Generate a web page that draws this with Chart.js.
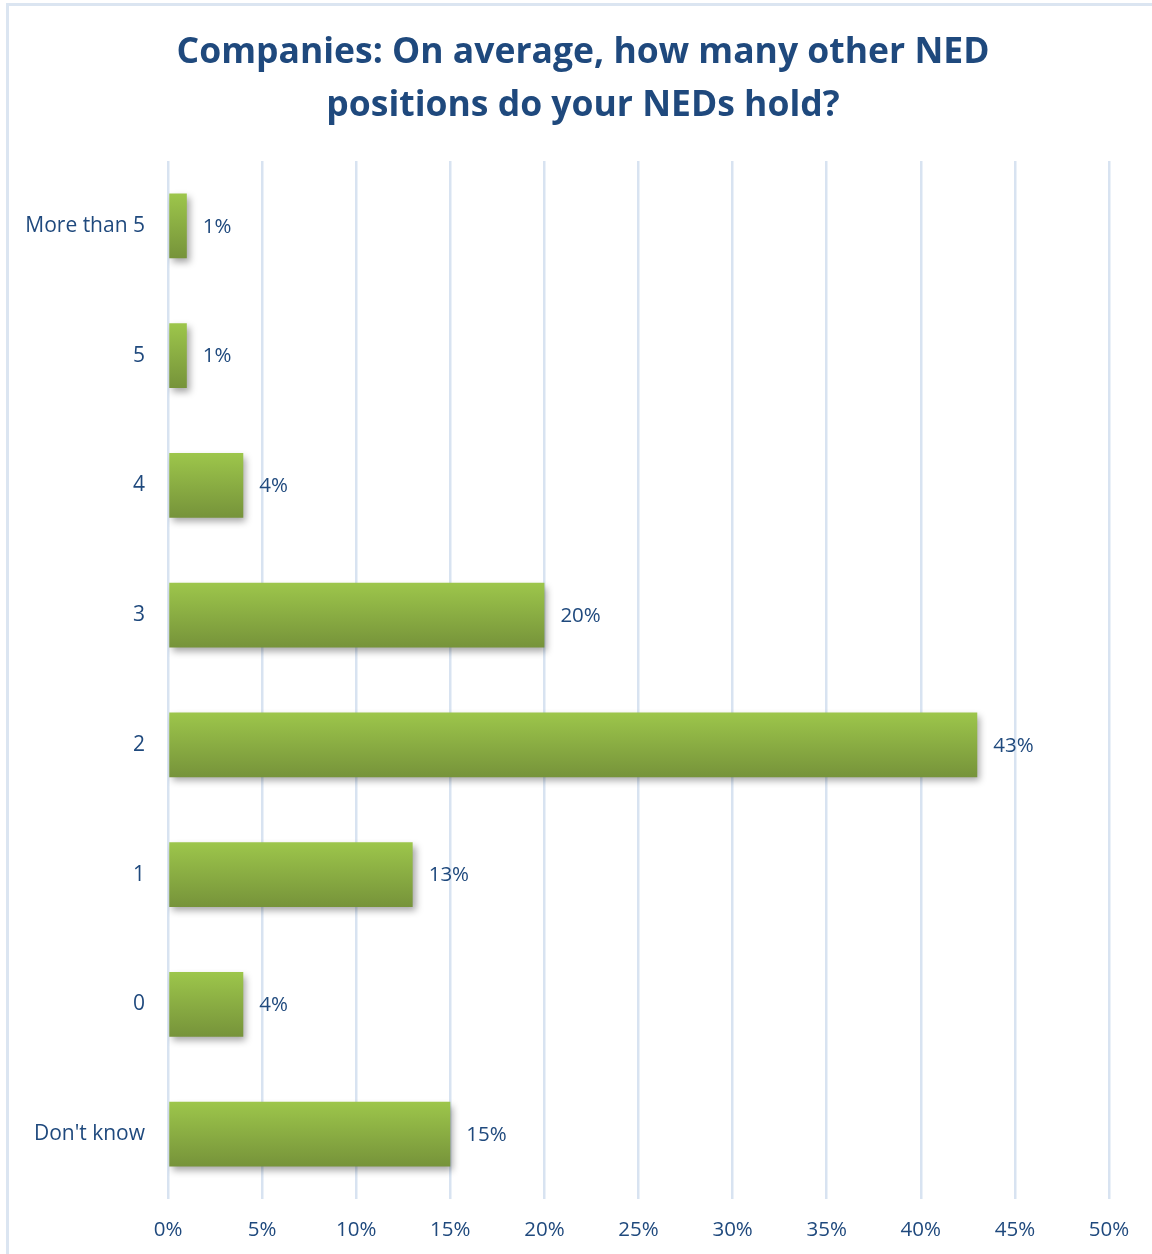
<!DOCTYPE html>
<html>
<head>
<meta charset="utf-8">
<script src="https://cdn.jsdelivr.net/npm/chart.js@4"></script>
<style>
  html, body { margin: 0; padding: 0; background: #fff; }
  #wrap { position: relative; width: 1152px; height: 1254px; overflow: hidden; }
  #frame { position: absolute; left: 6px; top: 3px; width: 1170px; height: 1280px;
           border: 3px solid #dbe5f1; box-sizing: border-box; }
  #title { position: absolute; left: 0; top: 23px; width: 1166px; text-align: center;
           font: bold 35.5px/53px "Open Sans", sans-serif; color: #1f497d; margin: 0; }
  canvas { position: absolute; left: 0; top: 0; }
</style>
</head>
<body>
<div id="wrap">
  <div id="frame"></div>
  <canvas id="c" width="1152" height="1254"></canvas>
  <h1 id="title"></h1>
</div>
<script>
const categories = ["More than 5", "5", "4", "3", "2", "1", "0", "Don't know"];
const shares = [1, 1, 4, 20, 43, 13, 4, 15];
const tickValues = [0, 5, 10, 15, 20, 25, 30, 35, 40, 45, 50];
const titleLines = ["Companies: On average, how many other NED", "positions do your NEDs hold?"];

const textColor = '#1f497d';
const gridColor = '#d8e3f1';

const titleEl = document.getElementById('title');
titleLines.forEach((line, i) => {
  if (i) titleEl.appendChild(document.createElement('br'));
  titleEl.appendChild(document.createTextNode(line));
});

// Vertical green gradient and soft drop shadow for each bar
const barStyle = {
  id: 'barStyle',
  beforeDatasetsDraw(chart) {
    const ctx = chart.ctx;
    chart.getDatasetMeta(0).data.forEach(el => {
      const top = el.y - el.height / 2, bottom = el.y + el.height / 2;
      const g = ctx.createLinearGradient(0, top, 0, bottom);
      g.addColorStop(0, '#9dc64b');
      g.addColorStop(1, '#76933a');
      el.options = Object.assign({}, el.options, { backgroundColor: g });
    });
    ctx.save();
    ctx.shadowColor = 'rgba(0,0,0,0.35)';
    ctx.shadowBlur = 7;
    ctx.shadowOffsetX = 3;
    ctx.shadowOffsetY = 4;
  },
  afterDatasetsDraw(chart) {
    chart.ctx.restore();
  }
};

// Percentage label just past the end of each bar
const valueLabels = {
  id: 'valueLabels',
  afterDatasetsDraw(chart) {
    const ctx = chart.ctx;
    const ds = chart.data.datasets[0];
    ctx.save();
    ctx.font = '20.5px "Open Sans"';
    ctx.fillStyle = textColor;
    ctx.textAlign = 'left';
    ctx.textBaseline = 'middle';
    chart.getDatasetMeta(0).data.forEach((el, i) => {
      ctx.fillText(ds.data[i] + '%', el.x + 16, el.y + 1);
    });
    ctx.restore();
  }
};

new Chart(document.getElementById('c'), {
  type: 'bar',
  data: {
    labels: categories,
    datasets: [{
      data: shares,
      backgroundColor: '#8aae44',
      borderWidth: 0,
      barPercentage: 0.5,
      categoryPercentage: 1.0
    }]
  },
  options: {
    indexAxis: 'y',
    responsive: false,
    animation: false,
    devicePixelRatio: 1,
    layout: { padding: { left: 0, right: 43, top: 161, bottom: 0 } },
    plugins: {
      legend: { display: false },
      tooltip: { enabled: false },
      title: { display: false }
    },
    scales: {
      x: {
        min: 0, max: 50,
        afterBuildTicks(scale) { scale.ticks = tickValues.map(v => ({ value: v })); },
        afterFit(scale) { scale.height = 55; },
        grid: { color: gridColor, lineWidth: 2.5, drawTicks: false },
        border: { display: false },
        ticks: {
          color: textColor,
          padding: 19,
          font: { family: '"Open Sans"', size: 20.5 },
          callback: v => v + '%'
        }
      },
      y: {
        afterFit(scale) { scale.width = 168; },
        grid: { display: false, drawTicks: false },
        border: { display: false },
        ticks: {
          color: textColor,
          padding: 23,
          font: { family: '"Open Sans"', size: 21 }
        }
      }
    }
  },
  plugins: [barStyle, valueLabels]
});
</script>
</body>
</html>
